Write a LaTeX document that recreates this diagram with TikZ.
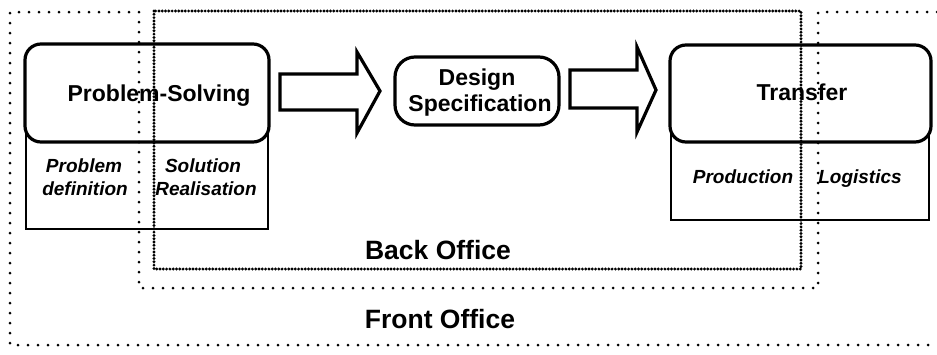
\documentclass[tikz,border=0pt]{standalone}
\usepackage{fontspec}
\setmainfont{Liberation Sans}
\begin{document}
\begin{tikzpicture}[x=1pt,y=-1pt,
  rbox/.style={draw,line width=3.2pt,rounded corners=16pt,fill=white,inner sep=0pt},
  lbox/.style={draw,line width=2.2pt,inner sep=0pt},
  blockarrow/.style={draw,line width=3.2pt,fill=white,line join=miter},
  fronto/.style={line width=3pt,line cap=round,dash pattern=on 0pt off 10pt},
  backo/.style={line width=3.2pt,line cap=round,dash pattern=on 0pt off 3.3pt},
  big/.style={font=\fontsize{23}{26}\selectfont\bfseries,anchor=base,inner sep=0pt},
  small/.style={font=\fontsize{19}{22}\selectfont\bfseries\itshape,anchor=base,inner sep=0pt},
  office/.style={font=\fontsize{26.5}{30}\selectfont\bfseries,anchor=base,inner sep=0pt}]
\useasboundingbox (0,0) rectangle (937,354);
% lower boxes
\node[lbox,minimum width=242,minimum height=99] (psl) at (147,179.5) {};
\node[lbox,minimum width=258,minimum height=90] (trl) at (800,175) {};
% main rounded boxes
\node[rbox,minimum width=244,minimum height=98] (ps) at (147,93) {};
\node[rbox,minimum width=164,minimum height=68,rounded corners=20pt] (ds) at (477,91) {};
\node[rbox,minimum width=261,minimum height=97] (tr) at (800.5,93.5) {};
% block arrows
\draw[blockarrow] (280,74) -- (357,74) -- (357,52) -- (380,91) -- (357,133) -- (357,110) -- (280,110) -- cycle;
\draw[blockarrow] (570,70) -- (637,70) -- (637,47) -- (656,90) -- (637,132) -- (637,108) -- (570,108) -- cycle;
% texts
\node[big] (pst) at (159,101) {Problem-Solving};
\node[big] (dst1) at (477,85) {Design};
\node[big] (dst2) at (480,111) {Specification};
\node[big] (trt) at (802,100) {Transfer};
\node[small] (p1) at (84,172) {Problem};
\node[small] (p2) at (85,195) {definition};
\node[small] (s1) at (203,172) {Solution};
\node[small] (s2) at (206,195) {Realisation};
\node[small] (pr) at (743,183) {Production};
\node[small] (lg) at (860,183) {Logistics};
\node[office] (bo) at (438,259) {Back Office};
\node[office] (fo) at (440,328) {Front Office};
% office boundaries
\draw[fronto] (937,12) -- (818,12) -- (818,288) -- (139,288) -- (139,12) -- (10,12) -- (10,345) -- (937,345);
\draw[backo] (154,11) rectangle (801,269);
\end{tikzpicture}
\end{document}
